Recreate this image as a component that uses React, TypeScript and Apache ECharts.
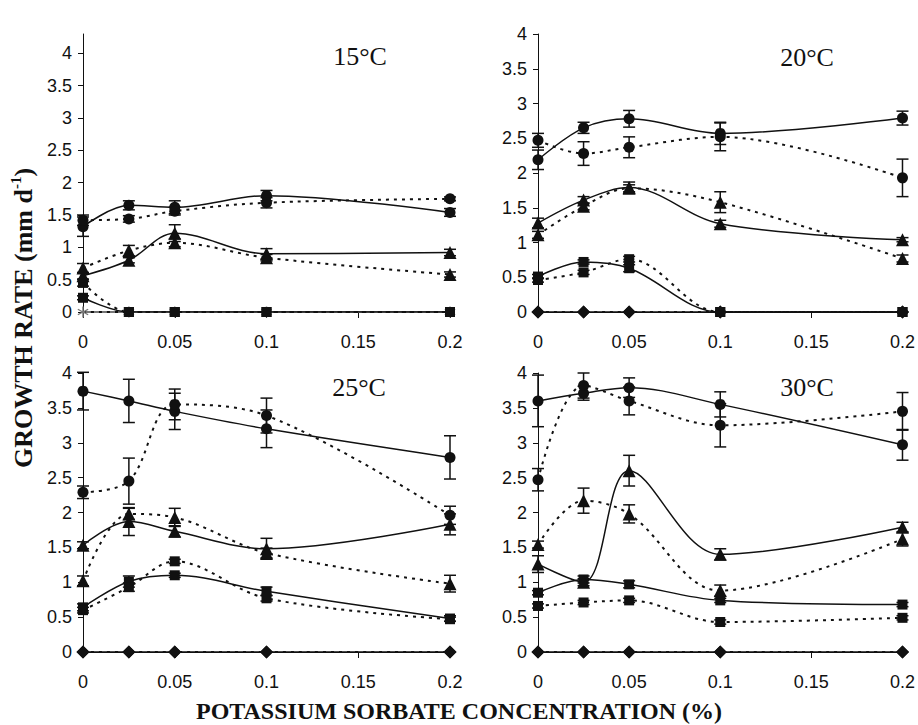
import React, { useEffect, useRef } from "react";
import * as echarts from "echarts";

// ---------------- data ----------------
const X_VALUES = [0, 0.025, 0.05, 0.1, 0.2];
const X_TICKS = [0, 0.05, 0.1, 0.15, 0.2];
const Y_TICKS = [0, 0.5, 1, 1.5, 2, 2.5, 3, 3.5, 4];
const PANEL_TITLES = ["15°C", "20°C", "25°C", "30°C"];
const X_TITLE = "POTASSIUM SORBATE CONCENTRATION (%)";

// 15°C
const T15_CIRCLE_SOLID = [1.32, 1.65, 1.62, 1.8, 1.54];
const T15_CIRCLE_SOLID_ERR = [0.15, 0.07, 0.1, 0.08, 0.06];
const T15_CIRCLE_DOT = [1.42, 1.44, 1.56, 1.69, 1.75];
const T15_CIRCLE_DOT_ERR = [0.08, 0.05, 0.06, 0.08, 0.03];
const T15_TRI_SOLID = [0.56, 0.8, 1.22, 0.9, 0.92];
const T15_TRI_SOLID_ERR = [0.05, 0.04, 0.13, 0.08, 0.05];
const T15_TRI_DOT = [0.68, 0.95, 1.07, 0.84, 0.58];
const T15_TRI_DOT_ERR = [0.07, 0.08, 0.06, 0.05, 0.04];
const T15_SQ_SOLID = [0.22, 0, 0, 0, 0];
const T15_SQ_SOLID_ERR = [0.03, 0, 0, 0, 0];
const T15_SQ_DOT = [0.45, 0, 0, 0, 0];
const T15_SQ_DOT_ERR = [0.05, 0, 0, 0, 0];
const T15_ZERO = [0, 0, 0, 0, 0];

// 20°C
const T20_CIRCLE_SOLID = [2.19, 2.65, 2.78, 2.57, 2.79];
const T20_CIRCLE_SOLID_ERR = [0.14, 0.08, 0.12, 0.16, 0.1];
const T20_CIRCLE_DOT = [2.47, 2.28, 2.37, 2.52, 1.93];
const T20_CIRCLE_DOT_ERR = [0.1, 0.17, 0.15, 0.2, 0.27];
const T20_TRI_SOLID = [1.28, 1.61, 1.79, 1.27, 1.04];
const T20_TRI_SOLID_ERR = [0.07, 0.05, 0.08, 0.05, 0.03];
const T20_TRI_DOT = [1.11, 1.52, 1.78, 1.58, 0.77];
const T20_TRI_DOT_ERR = [0.05, 0.05, 0.05, 0.15, 0.05];
const T20_SQ_SOLID = [0.51, 0.72, 0.63, 0, 0];
const T20_SQ_SOLID_ERR = [0.03, 0.03, 0.05, 0, 0];
const T20_SQ_DOT = [0.46, 0.57, 0.76, 0, 0];
const T20_SQ_DOT_ERR = [0.03, 0.03, 0.04, 0, 0];
const T20_ZERO = [0, 0, 0, 0, 0];

// 25°C
const T25_CIRCLE_SOLID = [3.74, 3.6, 3.45, 3.2, 2.79];
const T25_CIRCLE_SOLID_ERR = [0.27, 0.31, 0.26, 0.27, 0.31];
const T25_CIRCLE_DOT = [2.29, 2.45, 3.55, 3.39, 1.96];
const T25_CIRCLE_DOT_ERR = [0.09, 0.33, 0.22, 0.25, 0.13];
const T25_TRI_SOLID = [1.53, 1.87, 1.73, 1.48, 1.83];
const T25_TRI_SOLID_ERR = [0.05, 0.2, 0.08, 0.15, 0.15];
const T25_TRI_DOT = [1.02, 1.98, 1.93, 1.42, 0.98];
const T25_TRI_DOT_ERR = [0.07, 0.08, 0.13, 0.07, 0.12];
const T25_SQ_SOLID = [0.64, 1.01, 1.1, 0.87, 0.48];
const T25_SQ_SOLID_ERR = [0.05, 0.08, 0.03, 0.06, 0.04];
const T25_SQ_DOT = [0.6, 0.93, 1.3, 0.77, 0.47];
const T25_SQ_DOT_ERR = [0.04, 0.06, 0.03, 0.04, 0.03];
const T25_ZERO = [0, 0, 0, 0, 0];

// 30°C
const T30_CIRCLE_SOLID = [3.6, 3.71, 3.79, 3.55, 2.97];
const T30_CIRCLE_SOLID_ERR = [0.37, 0.1, 0.14, 0.18, 0.22];
const T30_CIRCLE_DOT = [2.47, 3.82, 3.6, 3.25, 3.45];
const T30_CIRCLE_DOT_ERR = [0.16, 0.18, 0.2, 0.31, 0.27];
const T30_TRI_SOLID = [1.26, 1.0, 2.6, 1.4, 1.79];
const T30_TRI_SOLID_ERR = [0.12, 0.05, 0.22, 0.08, 0.07];
const T30_TRI_DOT = [1.54, 2.17, 1.98, 0.88, 1.62];
const T30_TRI_DOT_ERR = [0.05, 0.18, 0.13, 0.08, 0.1];
const T30_SQ_SOLID = [0.85, 1.04, 0.97, 0.74, 0.68];
const T30_SQ_SOLID_ERR = [0.03, 0.05, 0.05, 0.03, 0.03];
const T30_SQ_DOT = [0.66, 0.71, 0.74, 0.43, 0.49];
const T30_SQ_DOT_ERR = [0.03, 0.03, 0.03, 0.03, 0.03];
const T30_ZERO = [0, 0, 0, 0, 0];

const PANELS = [
  {
    grayZero: true,
    circleSolid: [T15_CIRCLE_SOLID, T15_CIRCLE_SOLID_ERR],
    circleDot: [T15_CIRCLE_DOT, T15_CIRCLE_DOT_ERR],
    triSolid: [T15_TRI_SOLID, T15_TRI_SOLID_ERR],
    triDot: [T15_TRI_DOT, T15_TRI_DOT_ERR],
    sqSolid: [T15_SQ_SOLID, T15_SQ_SOLID_ERR],
    sqDot: [T15_SQ_DOT, T15_SQ_DOT_ERR],
    zero: T15_ZERO,
  },
  {
    grayZero: false,
    circleSolid: [T20_CIRCLE_SOLID, T20_CIRCLE_SOLID_ERR],
    circleDot: [T20_CIRCLE_DOT, T20_CIRCLE_DOT_ERR],
    triSolid: [T20_TRI_SOLID, T20_TRI_SOLID_ERR],
    triDot: [T20_TRI_DOT, T20_TRI_DOT_ERR],
    sqSolid: [T20_SQ_SOLID, T20_SQ_SOLID_ERR],
    sqDot: [T20_SQ_DOT, T20_SQ_DOT_ERR],
    zero: T20_ZERO,
  },
  {
    grayZero: false,
    circleSolid: [T25_CIRCLE_SOLID, T25_CIRCLE_SOLID_ERR],
    circleDot: [T25_CIRCLE_DOT, T25_CIRCLE_DOT_ERR],
    triSolid: [T25_TRI_SOLID, T25_TRI_SOLID_ERR],
    triDot: [T25_TRI_DOT, T25_TRI_DOT_ERR],
    sqSolid: [T25_SQ_SOLID, T25_SQ_SOLID_ERR],
    sqDot: [T25_SQ_DOT, T25_SQ_DOT_ERR],
    zero: T25_ZERO,
  },
  {
    grayZero: false,
    circleSolid: [T30_CIRCLE_SOLID, T30_CIRCLE_SOLID_ERR],
    circleDot: [T30_CIRCLE_DOT, T30_CIRCLE_DOT_ERR],
    triSolid: [T30_TRI_SOLID, T30_TRI_SOLID_ERR],
    triDot: [T30_TRI_DOT, T30_TRI_DOT_ERR],
    sqSolid: [T30_SQ_SOLID, T30_SQ_SOLID_ERR],
    sqDot: [T30_SQ_DOT, T30_SQ_DOT_ERR],
    zero: T30_ZERO,
  },
];

// ---------------- layout ----------------
const GRIDS = [
  { left: 83, top: 34, width: 367, height: 278 },
  { left: 538, top: 34, width: 365, height: 278 },
  { left: 83, top: 373, width: 367, height: 279 },
  { left: 538, top: 373, width: 365, height: 279 },
];
const TITLE_POS = [
  [360, 56],
  [807, 57],
  [359, 387],
  [807, 387],
];

const SANS = "'Liberation Sans', Arial, sans-serif";
const SERIF = "'Liberation Serif', 'Times New Roman', serif";
const INK = "#111";
const DOTTED = [3, 5];
const ASTERISK =
  "path://M4.5,0L5.5,0L5.5,3.3L8.3,1.6L8.8,2.5L6,4.1L8.8,5.7L8.3,6.6L5.5,4.9L5.5,8.2L4.5,8.2L4.5,4.9L1.7,6.6L1.2,5.7L4,4.1L1.2,2.5L1.7,1.6L4.5,3.3Z";

function App() {
  const ref = useRef<HTMLDivElement>(null);

  useEffect(() => {
    if (!ref.current) return;
    const chart = echarts.init(ref.current, null, { renderer: "svg" });

    const grid: any[] = [];
    const xAxis: any[] = [];
    const yAxis: any[] = [];
    const series: any[] = [];
    const graphic: any[] = [];

    const lineSeries = (
      idx: number,
      vals: number[],
      symbol: string,
      size: number,
      dotted: boolean,
      color = INK,
      width = 1.5
    ) => ({
      type: "line",
      xAxisIndex: idx,
      yAxisIndex: idx,
      data: X_VALUES.map((x, i) => [x, vals[i]]),
      smooth: 0.35,
      symbol,
      symbolSize: size,
      showSymbol: true,
      itemStyle: { color, borderWidth: 0 },
      lineStyle: { color, width: dotted ? 2 : width, type: dotted ? DOTTED : "solid" },
      z: 3,
      silent: true,
    });

    const errSeries = (idx: number, vals: number[], errs: number[]) => ({
      type: "custom",
      xAxisIndex: idx,
      yAxisIndex: idx,
      coordinateSystem: "cartesian2d",
      data: X_VALUES.map((x, i) => [x, vals[i], errs[i]]),
      encode: { x: 0, y: 1 },
      z: 2,
      silent: true,
      renderItem: (params: any, api: any) => {
        const x = api.value(0);
        const y = api.value(1);
        const e = api.value(2);
        if (!e) return null;
        const hi = api.coord([x, y + e]);
        const lo = api.coord([x, y - e]);
        const hw = 6;
        const st = { stroke: INK, lineWidth: 1.5 };
        return {
          type: "group",
          children: [
            { type: "line", shape: { x1: hi[0], y1: hi[1], x2: lo[0], y2: lo[1] }, style: st },
            { type: "line", shape: { x1: hi[0] - hw, y1: hi[1], x2: hi[0] + hw, y2: hi[1] }, style: st },
            { type: "line", shape: { x1: lo[0] - hw, y1: lo[1], x2: lo[0] + hw, y2: lo[1] }, style: st },
          ],
        };
      },
    });

    PANELS.forEach((p, idx) => {
      const g = GRIDS[idx];
      grid.push({ ...g, containLabel: false });
      xAxis.push({
        type: "value",
        gridIndex: idx,
        min: 0,
        max: 0.2,
        axisLine: { show: true, onZero: false, lineStyle: { color: INK, width: 1 } },
        axisTick: { show: true, inside: false, length: 6, customValues: X_TICKS, lineStyle: { color: INK } },
        axisLabel: {
          customValues: X_TICKS,
          margin: 21,
          color: INK,
          fontSize: 18,
          fontFamily: SANS,
          formatter: (v: number) => String(Math.round(v * 1000) / 1000),
        },
        splitLine: { show: false },
      });
      yAxis.push({
        type: "value",
        gridIndex: idx,
        min: 0,
        max: idx === 0 ? 4.3 : 4,
        axisLine: { show: true, lineStyle: { color: INK, width: 1 } },
        axisTick: { show: true, inside: false, length: 5, customValues: Y_TICKS, lineStyle: { color: INK } },
        axisLabel: {
          customValues: Y_TICKS,
          margin: 11,
          color: INK,
          fontSize: 18,
          fontFamily: SANS,
          formatter: (v: number) => String(v),
        },
        splitLine: { show: false },
      });

      // zero series
      if (p.grayZero) {
        series.push(lineSeries(idx, p.zero, ASTERISK, 11, false, "#777", 2));
        series.push(lineSeries(idx, p.zero, "none", 0, true));
      } else {
        series.push(lineSeries(idx, p.zero, "diamond", 13, false));
        series.push(lineSeries(idx, p.zero, "diamond", 13, true));
      }
      series.push(lineSeries(idx, p.sqSolid[0], "rect", 10, false));
      series.push(lineSeries(idx, p.sqDot[0], "rect", 10, true));
      series.push(lineSeries(idx, p.triSolid[0], "triangle", 13, false));
      series.push(lineSeries(idx, p.triDot[0], "triangle", 13, true));
      series.push(lineSeries(idx, p.circleSolid[0], "circle", 11, false));
      series.push(lineSeries(idx, p.circleDot[0], "circle", 11, true));

      series.push(errSeries(idx, p.sqSolid[0], p.sqSolid[1]));
      series.push(errSeries(idx, p.sqDot[0], p.sqDot[1]));
      series.push(errSeries(idx, p.triSolid[0], p.triSolid[1]));
      series.push(errSeries(idx, p.triDot[0], p.triDot[1]));
      series.push(errSeries(idx, p.circleSolid[0], p.circleSolid[1]));
      series.push(errSeries(idx, p.circleDot[0], p.circleDot[1]));

      graphic.push({
        type: "text",
        x: TITLE_POS[idx][0],
        y: TITLE_POS[idx][1],
        style: {
          text: PANEL_TITLES[idx],
          fill: INK,
          fontSize: 26,
          fontFamily: SERIF,
          align: "center",
          verticalAlign: "middle",
        },
      });
    });

    graphic.push({
      type: "text",
      x: 459,
      y: 711,
      style: {
        text: X_TITLE,
        fill: INK,
        fontSize: 24,
        fontWeight: "bold",
        fontFamily: SERIF,
        align: "center",
        verticalAlign: "middle",
      },
    });
    graphic.push({
      type: "text",
      x: 23,
      y: 318,
      rotation: Math.PI / 2,
      style: {
        text: "{b|GROWTH RATE (mm d}{s|-1}{b|)}",
        fill: INK,
        align: "center",
        verticalAlign: "middle",
        rich: {
          b: { fontSize: 26, fontWeight: "bold", fontFamily: SERIF, fill: INK, lineHeight: 30 },
          s: { fontSize: 15, fontWeight: "bold", fontFamily: SERIF, fill: INK, verticalAlign: "top", lineHeight: 30, padding: [0, 0, 12, 0] },
        },
      },
    });

    chart.setOption({
      animation: false,
      backgroundColor: "#fff",
      grid,
      xAxis,
      yAxis,
      series,
      graphic,
    });

    return () => chart.dispose();
  }, []);

  return (
    <div
      ref={ref}
      style={{ position: "fixed", left: 0, top: 0, width: 918, height: 725, background: "#fff" }}
    />
  );
}

export default App;
